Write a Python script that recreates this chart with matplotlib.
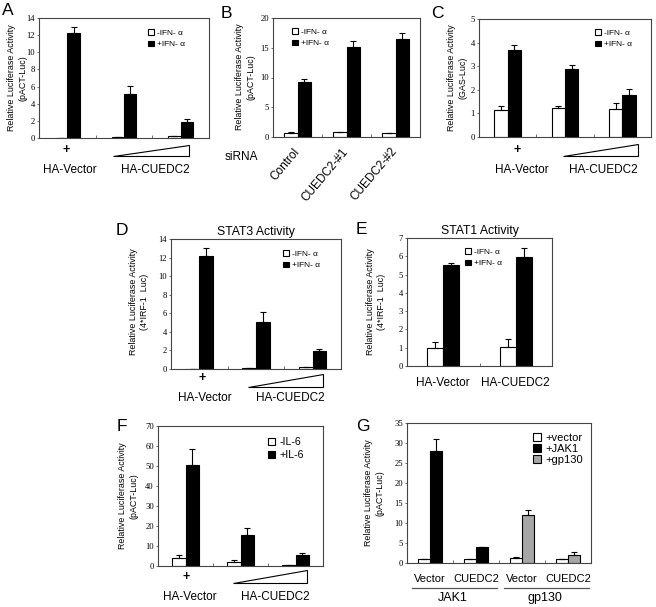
import matplotlib.pyplot as plt
from matplotlib.patches import Patch, Polygon
from matplotlib.lines import Line2D
import numpy as np

plt.rcParams['font.family'] = 'Liberation Sans'

W, H = 656, 607

# A and D: pACT-Luc / STAT3 reporter, -IFN-a vs +IFN-a (vector, low, high CUEDC2)
stat3_minus = [0.05, 0.1, 0.2]
stat3_minus_err = [0.0, 0.0, 0.05]
stat3_plus = [12.2, 5.1, 1.9]
stat3_plus_err = [0.8, 1.0, 0.3]

# B: siRNA knockdown
sirna_labels = ['Control', 'CUEDC2-#1', 'CUEDC2-#2']
sirna_minus = [0.7, 0.85, 0.6]
sirna_minus_err = [0.1, 0.05, 0.1]
sirna_plus = [9.2, 15.2, 16.4]
sirna_plus_err = [0.6, 1.0, 1.1]

# C: GAS-Luc
gas_minus = [1.15, 1.25, 1.2]
gas_minus_err = [0.18, 0.07, 0.25]
gas_plus = [3.7, 2.9, 1.78]
gas_plus_err = [0.18, 0.15, 0.27]

# E: STAT1 activity
stat1_labels = ['HA-Vector', 'HA-CUEDC2']
stat1_minus = [1.0, 1.05]
stat1_minus_err = [0.3, 0.45]
stat1_plus = [5.5, 5.95]
stat1_plus_err = [0.15, 0.5]

# F: IL-6
il6_minus = [4.0, 1.8, 0.3]
il6_minus_err = [1.5, 1.2, 0.2]
il6_plus = [50.5, 15.3, 5.5]
il6_plus_err = [8.0, 3.7, 1.0]

# G: JAK1 / gp130 co-transfection
g_labels = ['Vector', 'CUEDC2', 'Vector', 'CUEDC2']
g_groups = ['JAK1', 'gp130']
g_vector = [1.0, 1.0, 1.3, 1.0]
g_vector_err = [0.1, 0.1, 0.1, 0.1]
g_stim = [28.0, 3.9, 12.1, 2.0]
g_stim_err = [3.0, 0.2, 1.2, 0.8]
g_stim_kind = ['JAK1', 'JAK1', 'gp130', 'gp130']

ifn_labels = ['-IFN- α', '+IFN- α']
il6_labels = ['-IL-6', '+IL-6']
g_legend = ['+vector', '+JAK1', '+gp130']

GRAY = '#a6a6a6'
fig = plt.figure(figsize=(W / 100, H / 100), dpi=100)


def fx(px):
    return px / W


def fy(py):
    return 1 - py / H


#make one boxed panel from its pixel rectangle
def add_panel(rect, ymax, ystep, ncat):
    x0, y0, x1, y1 = rect
    ax = fig.add_axes([fx(x0), fy(y1), (x1 - x0) / W, (y1 - y0) / H])
    ax.set_xlim(-0.5, ncat - 0.5)
    ax.set_ylim(0, ymax)
    ax.set_yticks(np.arange(0, ymax + ystep / 2, ystep))
    ax.set_xticks(np.arange(ncat + 1) - 0.5)
    ax.set_xticklabels([])
    ax.tick_params(axis='x', direction='in', length=2.5, width=0.6, color='#555555')
    ax.tick_params(axis='y', direction='out', length=1.5, width=0.6, pad=1.5, color='#555555')
    for t in ax.get_yticklabels():
        t.set_fontfamily('Liberation Serif')
        t.set_fontsize(6.2)
    for s in ax.spines.values():
        s.set_linewidth(0.8)
        s.set_color('#444444')
    return ax


#two bars per category with upper error bars only
def draw_pair(ax, left, left_err, right, right_err, right_colors, w):
    x = np.arange(len(left))
    ax.bar(x - w / 2, left, w, color='white', edgecolor='black', lw=0.8)
    ax.bar(x + w / 2, right, w, color=right_colors, edgecolor='black', lw=0.8)
    ax.errorbar(x - w / 2, left, yerr=[np.zeros(len(left)), left_err], fmt='none',
                ecolor='black', elinewidth=0.8, capsize=2.5, capthick=0.8)
    ax.errorbar(x + w / 2, right, yerr=[np.zeros(len(right)), right_err], fmt='none',
                ecolor='black', elinewidth=0.8, capsize=2.5, capthick=0.8)


def add_legend(ax, rect, px, py, labels, colors, fs, spacing):
    x0, y0, x1, y1 = rect
    handles = [Patch(facecolor=c, edgecolor='black', lw=0.8) for c in colors]
    ax.legend(handles, labels, loc='upper left',
              bbox_to_anchor=((px - x0) / (x1 - x0), (y1 - py) / (y1 - y0)),
              frameon=False, fontsize=fs, handlelength=0.7, handleheight=0.7,
              handletextpad=0.4, labelspacing=spacing, borderpad=0, borderaxespad=0)


def text(px, py, s, **kw):
    fig.text(fx(px), fy(py), s, **kw)


def ylabel(px, py, s):
    text(px, py, s, rotation=90, ha='center', va='center', multialignment='center',
         fontsize=6.4, linespacing=1.4)


def letter(px, py, s):
    text(px, py, s, ha='left', va='top', fontsize=12.5)


#dose wedge under the CUEDC2 groups
def wedge(xl, xr, ytop, ybot):
    fig.add_artist(Polygon([[fx(xl), fy(ybot)], [fx(xr), fy(ybot)], [fx(xr), fy(ytop)]],
                           closed=True, fc='white', ec='black', lw=0.8,
                           transform=fig.transFigure))


def vector_cuedc2(xplus, yplus, xvec, xcue, ylab, tri):
    text(xplus, yplus, '+', ha='center', va='center', fontsize=9, fontweight='bold')
    wedge(*tri)
    text(xvec, ylab, 'HA-Vector', ha='center', va='center', fontsize=8.5)
    text(xcue, ylab, 'HA-CUEDC2', ha='center', va='center', fontsize=8.5)


# panel A
rA = (39, 18, 209, 138)
ax = add_panel(rA, 14, 2, 3)
draw_pair(ax, stat3_minus, stat3_minus_err, stat3_plus, stat3_plus_err, 'black', 0.22)
add_legend(ax, rA, 148, 29, ifn_labels, ['white', 'black'], 6, 0.45)
letter(2, 3, 'A')
ylabel(17, 78, 'Relative Luciferase Activity\n(pACT-Luc)')
vector_cuedc2(66, 150, 70, 155, 170, (113, 189, 145, 156))

# panel B
rB = (273, 18, 420, 137)
ax = add_panel(rB, 20, 5, 3)
draw_pair(ax, sirna_minus, sirna_minus_err, sirna_plus, sirna_plus_err, 'black', 0.27)
add_legend(ax, rB, 292, 28, ifn_labels, ['white', 'black'], 6, 0.45)
ax.set_xticks(np.arange(3), minor=True)
ax.set_xticklabels(sirna_labels, minor=True, rotation=50, ha='right', va='center',
                   rotation_mode='anchor', fontsize=8.5)
ax.tick_params(axis='x', which='minor', length=0, pad=9)
letter(221, 6, 'B')
ylabel(245, 77, 'Relative Luciferase Activity\n(pACT-Luc)')
text(225, 157, 'siRNA', ha='left', va='center', fontsize=8.5)

# panel C
rC = (479, 19, 651, 137)
ax = add_panel(rC, 5, 1, 3)
draw_pair(ax, gas_minus, gas_minus_err, gas_plus, gas_plus_err, 'black', 0.23)
add_legend(ax, rC, 595, 29, ifn_labels, ['white', 'black'], 6, 0.45)
letter(431, 6, 'C')
ylabel(457, 78, 'Relative Luciferase Activity\n(GAS-Luc)')
vector_cuedc2(517, 150, 522, 603, 170, (563, 638, 144, 156))

# panel D
rD = (171, 239, 341, 369)
ax = add_panel(rD, 14, 2, 3)
draw_pair(ax, stat3_minus, stat3_minus_err, stat3_plus, stat3_plus_err, 'black', 0.24)
add_legend(ax, rD, 283, 250, ifn_labels, ['white', 'black'], 6, 0.45)
letter(116, 223, 'D')
ax.set_title('STAT3 Activity', fontsize=8.8, pad=3)
ylabel(139, 302, 'Relative Luciferase Activity\n(4*IRF-1  Luc)')
vector_cuedc2(202, 378, 205, 290, 398, (248, 323, 374, 387))

# panel E
rE = (407, 238, 552, 366)
ax = add_panel(rE, 7, 1, 2)
draw_pair(ax, stat1_minus, stat1_minus_err, stat1_plus, stat1_plus_err, 'black', 0.22)
add_legend(ax, rE, 465, 248, ifn_labels, ['white', 'black'], 6, 0.45)
letter(356, 222, 'E')
ax.set_title('STAT1 Activity', fontsize=8.8, pad=3)
ylabel(376, 302, 'Relative Luciferase Activity\n(4*IRF-1  Luc)')
for i, s in enumerate(stat1_labels):
    ax.text(i, -0.13, s, transform=ax.get_xaxis_transform(), ha='center', va='center',
            fontsize=8.5)

# panel F
rF = (158, 426, 323, 566)
ax = add_panel(rF, 70, 10, 3)
draw_pair(ax, il6_minus, il6_minus_err, il6_plus, il6_plus_err, 'black', 0.25)
add_legend(ax, rF, 268, 437, il6_labels, ['white', 'black'], 7.7, 0.3)
letter(117, 419, 'F')
ylabel(128, 496, 'Relative Luciferase Activity\n(pACT-Luc)')
vector_cuedc2(186, 577, 190, 275, 597, (233, 307, 570, 583))

# panel G
rG = (407, 423, 591, 563)
ax = add_panel(rG, 35, 5, 4)
kind_color = {'JAK1': 'black', 'gp130': GRAY}
draw_pair(ax, g_vector, g_vector_err, g_stim, g_stim_err,
          [kind_color[k] for k in g_stim_kind], 0.27)
add_legend(ax, rG, 533, 433, g_legend, ['white', 'black', GRAY], 8, 0.1)
letter(356, 419, 'G')
ylabel(374, 493, 'Relative Luciferase Activity\n(pACT-Luc)')
for i, s in enumerate(g_labels):
    ax.text(i, -0.115, s, transform=ax.get_xaxis_transform(), ha='center', va='center',
            fontsize=8)
for j, s in enumerate(g_groups):
    xl, xr = 2 * j - 0.4, 2 * j + 1.45
    ax.add_artist(Line2D([xl, xr], [-0.18, -0.18], transform=ax.get_xaxis_transform(),
                         color='#555555', lw=0.9, clip_on=False))
    ax.text(2 * j + 0.5, -0.25, s, transform=ax.get_xaxis_transform(), ha='center',
            va='center', fontsize=9)

fig.savefig('out.png', dpi=100)
